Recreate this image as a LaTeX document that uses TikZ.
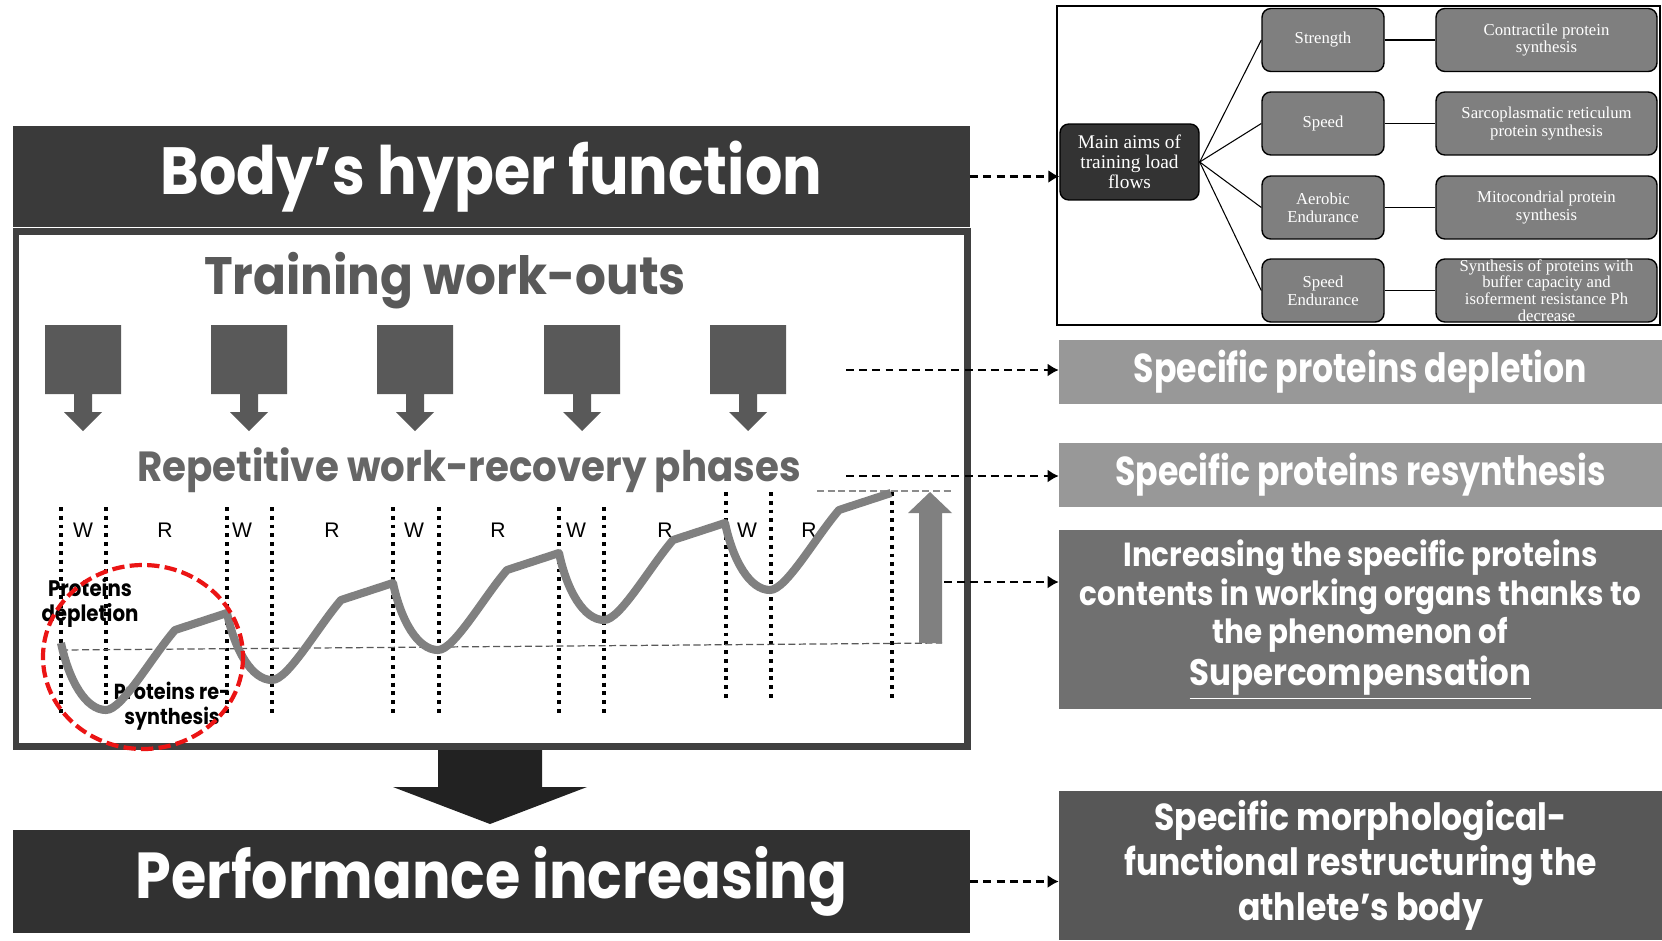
\documentclass[tikz,border=0pt]{standalone}
\usepackage{fontspec}
\setmainfont{Liberation Serif}
\newfontfamily\futfont[FakeStretch=0.82]{Poppins}
\newfontfamily\futwide[FakeStretch=0.88]{Poppins}
\newfontfamily\futwider[FakeStretch=0.92]{Poppins}
\newfontfamily\arialfont{Liberation Sans}
\usetikzlibrary{positioning,calc,arrows.meta}
\definecolor{darkbar}{RGB}{58,58,58}
\definecolor{framegray}{RGB}{64,64,64}
\definecolor{perfbar}{RGB}{49,49,49}
\definecolor{arrowblack}{RGB}{34,34,34}
\definecolor{workgray}{RGB}{89,89,89}
\definecolor{phasegray}{RGB}{102,102,102}
\definecolor{curvegray}{RGB}{128,128,128}
\definecolor{lightbox}{RGB}{152,152,152}
\definecolor{midbox}{RGB}{112,112,112}
\definecolor{deepbox}{RGB}{87,87,87}
\definecolor{treedark}{RGB}{51,51,51}
\definecolor{treegray}{RGB}{127,127,127}
\definecolor{ringred}{RGB}{235,20,20}

\begin{document}
\begin{tikzpicture}[
		x=0.02cm,
		y=-0.02cm,
		>=Latex,
		bar/.style={
			fill=darkbar,
			text=white,
			font=\futwide\bfseries\fontsize{38}{44}\selectfont,
			minimum width=19.14cm,
			minimum height=2.02cm,
			inner sep=0pt
		},
		sidebox/.style={
			text=white,
			align=center,
			minimum width=12.06cm,
			inner sep=0pt
		},
		treebox/.style={
			rounded corners=5pt,
			draw=black,
			line width=0.8pt,
			fill=treegray,
			text=white,
			align=center,
			inner sep=0pt,
			minimum height=1.26cm,
			font=\fontsize{9.5}{10.2}\selectfont
		},
		dasharrow/.style={-{Latex[length=2.2mm,width=2.6mm]}, line width=1.3pt, dash pattern=on 4.5pt off 3pt},
		phaseline/.style={line width=2.2pt, dash pattern=on 2.2pt off 2.8pt},
		curve/.style={curvegray, line width=4.6pt, line join=round},
		wrtxt/.style={font=\arialfont\fontsize{12}{14}\selectfont},
		notetxt/.style={font=\futwide\bfseries\fontsize{12.8}{14}\selectfont, align=center}
	]
	
	% Canvas
	\fill[white] (0,0) rectangle (1662,940);
	\useasboundingbox (0,0) rectangle (1662,940);
	
	% Left column
	\node[bar] (body) at (491.5,176.5) {Body’s hyper function};
	\draw[framegray, line width=0.14cm] (16,231) rectangle (967,746);
	\node[font=\futwider\bfseries\fontsize{30}{34}\selectfont, text=workgray] (workouts) at (445,281) {Training work-outs};
	\node[font=\futwider\bfseries\fontsize{24}{28}\selectfont, text=phasegray] (phases) at (469,470) {Repetitive work-recovery phases};
	
	% Work-out arrows
	\foreach \cx in {83,249,415,582,748}{
		\fill[workgray] (\cx-38,325) -- (\cx+38,325) -- (\cx+38,394) -- (\cx+9,394) --
		(\cx+9,412) -- (\cx+19,412) -- (\cx,431) -- (\cx-19,412) -- (\cx-9,412) --
		(\cx-9,394) -- (\cx-38,394) -- cycle;
	}
	
	% Notes in the ring
	\node[notetxt] (deptxt) at (90,603) {Proteins\\depletion};
	\node[notetxt, font=\futwide\bfseries\fontsize{12.4}{14}\selectfont] (resyntxt) at (172,706) {Proteins re-\\synthesis};
	
	% Phase borders
	\foreach \x/\ya/\yb in {61/507/717,106/507/717,227/507/717,272/507/717,393/507/717,439/507/717,559/507/717,604/507/717,726/492/702,771/492/702,892/492/702}{
		\draw[phaseline] (\x,\ya) -- (\x,\yb);
	}
	\foreach \x/\t in {83/W,242/W,414/W,576/W,747/W,165/R,332/R,498/R,665/R,809/R}{
		\node[wrtxt] at (\x,530) {\t};
	}
	
	% Levels
	\draw[black!65, line width=0.7pt, dash pattern=on 4pt off 2pt] (61,650) -- (942,643);
	\draw[black!45, line width=0.6pt, dash pattern=on 4pt off 2pt] (817,491) -- (952,491);
	
	% Supercompensation curve
	\draw[curve] (61,643)
	\foreach \k in {0,...,4}{
		.. controls +(8,38) and +(-20,0) .. ({106+166*\k},{710-30*\k})
		.. controls +(16,0) and +(-24,28) .. ({175+166*\k},{630-30*\k})
		-- ({227+166*\k},{613-30*\k})
	};
	
	% Gain arrow
	\fill[curvegray] (919,643) -- (919,513) -- (908,513) -- (930,492) -- (952,513) -- (942,513) -- (942,643) -- cycle;
	
	% Ring
	\draw[ringred, line width=2.4pt, dash pattern=on 7pt off 3pt] (143,657) ellipse (100 and 92);
	
	% Down arrow and result
	\fill[arrowblack] (438,750) -- (542,750) -- (542,787) -- (587,787) -- (490,824) -- (393,787) -- (438,787) -- cycle;
	\node[bar, fill=perfbar, minimum height=2.06cm, font=\futwide\bfseries\fontsize{37}{44}\selectfont] (perf) at (491.5,881.5) {Performance increasing};
	
	% Tree of aims
	\draw[black, line width=1pt] (1057,6) rectangle (1660,325);
	\node[treebox, fill=treedark, minimum width=2.78cm, minimum height=1.52cm, font=\fontsize{11}{11.4}\selectfont] (aims) at (1129.5,162) {Main aims of\\training load\\flows};
	\node[treebox, minimum width=2.44cm] (strg) at (1323,40) {Strength};
	\node[treebox, minimum width=2.44cm] (spd) at (1323,123.5) {Speed};
	\node[treebox, minimum width=2.44cm] (aero) at (1323,207.5) {Aerobic\\Endurance};
	\node[treebox, minimum width=2.44cm] (spend) at (1323,290.5) {Speed\\Endurance};
	\node[treebox, minimum width=4.42cm] (contr) at (1546.5,40) {Contractile protein\\synthesis};
	\node[treebox, minimum width=4.42cm] (sarco) at (1546.5,123.5) {Sarcoplasmatic reticulum\\protein synthesis};
	\node[treebox, minimum width=4.42cm] (mito) at (1546.5,207.5) {Mitocondrial protein\\synthesis};
	\node[treebox, minimum width=4.42cm, font=\fontsize{9.5}{9.6}\selectfont] (buffer) at (1546.5,290.5) {Synthesis of proteins with\\buffer capacity and\\isoferment resistance Ph\\decrease};
	\foreach \m/\r in {strg/contr,spd/sarco,aero/mito,spend/buffer}{
		\draw[black, line width=0.6pt] (aims.east) -- (\m.west);
		\draw[black, line width=0.6pt] (\m.east) -- (\r.west);
	}
	
	% Right column
	\node[sidebox, fill=lightbox, minimum height=1.28cm, font=\futfont\bfseries\fontsize{23}{26}\selectfont] (deplete) at (1360.5,372) {Specific proteins depletion};
	\node[sidebox, fill=lightbox, minimum height=1.28cm, font=\futfont\bfseries\fontsize{23}{26}\selectfont] (resyn) at (1360.5,475) {Specific proteins resynthesis};
	\node[sidebox, fill=midbox, minimum height=3.58cm, font=\futwide\bfseries\fontsize{19}{22}\selectfont] (incr) at (1360.5,619.5) {Increasing the specific proteins\\contents in working organs thanks to\\the phenomenon of\\[2pt]{\fontsize{21}{23}\selectfont\underline{Supercompensation}}};
	\node[sidebox, fill=deepbox, minimum height=2.98cm, font=\futwide\bfseries\fontsize{21.4}{25.5}\selectfont] (morph) at (1360.5,865.5) {Specific morphological-\\functional restructuring the\\athlete’s body};
	
	% Links
	\coordinate (dstart) at (846,370);
	\coordinate (rstart) at (846,476);
	\coordinate (sstart) at (944,582);
	\draw[dasharrow] (body.east) -- (body.east -| aims.west);
	\draw[dasharrow] (dstart) -- (dstart -| deplete.west);
	\draw[dasharrow] (rstart) -- (rstart -| resyn.west);
	\draw[dasharrow] (sstart) -- (sstart -| incr.west);
	\draw[dasharrow] (perf.east) -- (perf.east -| morph.west);
	
\end{tikzpicture}
\end{document}
